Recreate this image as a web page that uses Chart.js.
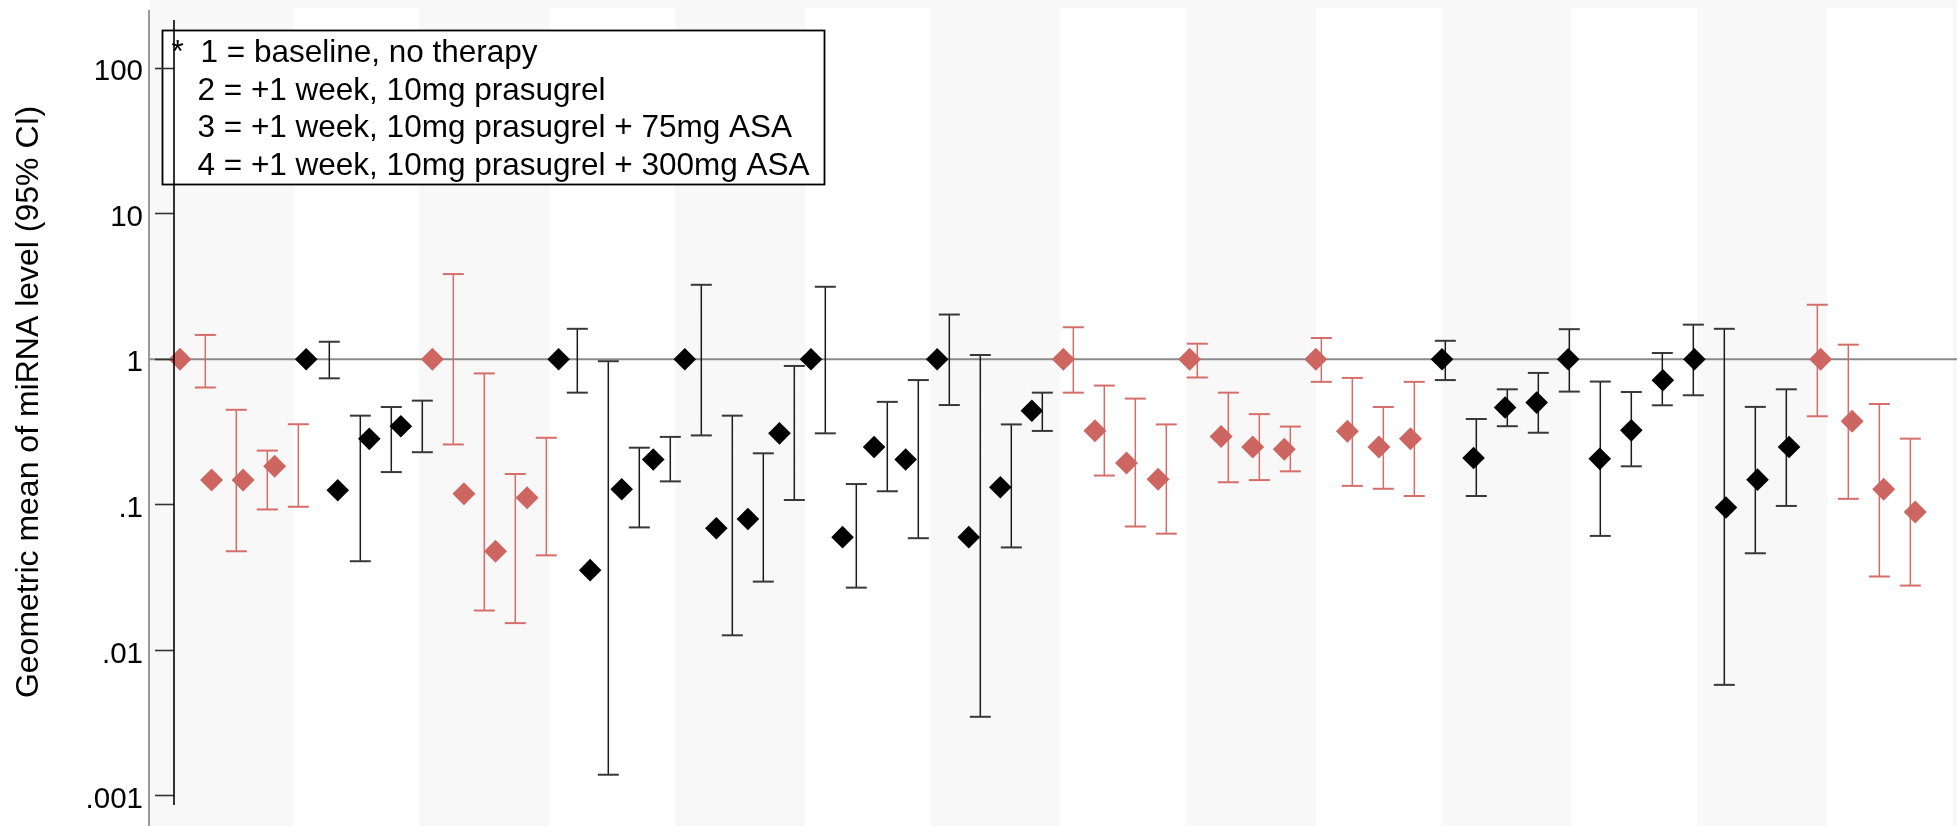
<!DOCTYPE html>
<html>
<head>
<meta charset="utf-8">
<title>Geometric mean of miRNA level</title>
<script src="https://cdn.jsdelivr.net/npm/chart.js@4/dist/chart.umd.min.js"></script>
<style>
  html, body { margin: 0; padding: 0; background: #ffffff; overflow: hidden; }
  canvas { display: block; }
</style>
</head>
<body>
<canvas id="chart" width="1957" height="826"></canvas>
<script>
// ---- Data: 14 miRNAs x 4 conditions (baseline, prasugrel, +75mg ASA, +300mg ASA) ----
const geoMean = [
  1.00, 0.148, 0.148, 0.184,
  1.00, 0.126, 0.284, 0.347,
  1.00, 0.119, 0.048, 0.112,
  1.00, 0.0356, 0.128, 0.205,
  1.00, 0.069, 0.080, 0.31,
  1.00, 0.060, 0.25, 0.205,
  1.00, 0.060, 0.132, 0.443,
  1.00, 0.323, 0.194, 0.150,
  1.00, 0.295, 0.250, 0.241,
  1.00, 0.32, 0.25, 0.285,
  1.00, 0.21, 0.466, 0.504,
  1.00, 0.207, 0.325, 0.718,
  1.00, 0.0958, 0.149, 0.25,
  1.00, 0.375, 0.128, 0.0894
];
const ciLower = [
  0.64, 0.048, 0.093, 0.097,
  0.74, 0.041, 0.168, 0.23,
  0.26, 0.0188, 0.0154, 0.045,
  0.59, 0.0014, 0.07, 0.145,
  0.30, 0.0127, 0.0297, 0.108,
  0.31, 0.027, 0.124, 0.059,
  0.485, 0.0035, 0.051, 0.322,
  0.59, 0.159, 0.071, 0.0634,
  0.75, 0.143, 0.148, 0.170,
  0.70, 0.135, 0.129, 0.115,
  0.72, 0.115, 0.347, 0.313,
  0.60, 0.0612, 0.184, 0.483,
  0.566, 0.0058, 0.0465, 0.0983,
  0.406, 0.110, 0.0322, 0.0279
];
const ciUpper = [
  1.47, 0.45, 0.236, 0.358,
  1.32, 0.41, 0.47, 0.52,
  3.85, 0.80, 0.163, 0.289,
  1.62, 0.97, 0.247, 0.293,
  3.25, 0.41, 0.226, 0.90,
  3.15, 0.139, 0.51, 0.72,
  2.03, 1.07, 0.357, 0.59,
  1.66, 0.66, 0.537, 0.357,
  1.28, 0.59, 0.42, 0.345,
  1.40, 0.745, 0.47, 0.70,
  1.34, 0.389, 0.622, 0.806,
  1.61, 0.703, 0.596, 1.105,
  1.73, 1.62, 0.471, 0.622,
  2.37, 1.26, 0.493, 0.285
];
// miRNAs drawn in the highlighted series (1) vs the plain series (0)
const highlighted = [1, 0, 1, 0, 0, 0, 0, 1, 1, 1, 0, 0, 0, 1];
const conditionsPerMirna = 4;

// Axis ticks and texts
const yTickValues = [0.001, 0.01, 0.1, 1, 10, 100];
const yTickLabels = ['.001', '.01', '.1', '1', '10', '100'];
const yTitle = 'Geometric mean of miRNA level (95% CI)';
const noteMarker = '*';
const noteLines = [
  '1 = baseline, no therapy',
  '2 = +1 week, 10mg prasugrel',
  '3 = +1 week, 10mg prasugrel + 75mg ASA',
  '4 = +1 week, 10mg prasugrel + 300mg ASA'
];
const referenceValue = 1;

// ---- Styling / layout ----
const FONT = '"Liberation Sans", Arial, Helvetica, sans-serif';
const RED = '#cd6660';
const RED_CI = '#d56e69';
const BLACK = '#000000';
const BLACK_CI = '#1c1c1c';
const REGION_BG = '#f8f8f8';
const Y_MIN = 0.000622, Y_MAX = 294;
const BAND_TOP = 260, BAND_FLOOR = 1e-4;
const AXIS_LINE_RANGE = [0.000867, 214];
const BAND_FRACTION = 0.982;

const nPts = geoMean.length;
const idx = Array.from({ length: nPts }, (_, i) => i);
const isHi = i => highlighted[Math.floor(i / conditionsPerMirna)] === 1;

function markerData(flag) {
  return idx.filter(i => isHi(i) === flag).map(i => ({ x: i, y: geoMean[i] }));
}
function ciStemData(flag) {
  const out = [];
  idx.filter(i => isHi(i) === flag).forEach(i => {
    out.push({ x: i, y: ciLower[i] }, { x: i, y: ciUpper[i] }, { x: i, y: null });
  });
  return out;
}
function ciCapData(flag) {
  const out = [];
  idx.filter(i => isHi(i) === flag).forEach(i => {
    out.push({ x: i, y: ciLower[i] }, { x: i, y: ciUpper[i] });
  });
  return out;
}
// alternate miRNA columns get a white band
const bandData = highlighted.map((_, g) => g).filter(g => g % 2 === 1)
  .map(g => ({ x: g, y: [BAND_FLOOR, BAND_TOP] }));

// Background of the plot region plus its left rule; reference line at 1
const regionPlugin = {
  id: 'region',
  beforeDraw(chart) {
    const { ctx, chartArea } = chart;
    const left = chartArea.left - 25;
    ctx.save();
    ctx.fillStyle = REGION_BG;
    ctx.fillRect(left + 1, 0, chart.width - left, chart.height);
    ctx.strokeStyle = '#8e8e8e';
    ctx.lineWidth = 1.8;
    ctx.beginPath();
    ctx.moveTo(left, 10);
    ctx.lineTo(left, chart.height);
    ctx.stroke();
    ctx.restore();
  },
  afterDatasetDraw(chart, args) {
    if (args.meta.type !== 'bar') return;
    const { ctx, chartArea } = chart;
    const y = chart.scales.y.getPixelForValue(referenceValue);
    ctx.save();
    ctx.strokeStyle = '#8a8a8a';
    ctx.lineWidth = 2;
    ctx.beginPath();
    ctx.moveTo(chartArea.left - 24, y);
    ctx.lineTo(chartArea.right, y);
    ctx.stroke();
    ctx.restore();
  }
};

// Boxed note in the upper left corner
const notePlugin = {
  id: 'note',
  afterDatasetsDraw(chart) {
    const { ctx, chartArea } = chart;
    const bx = chartArea.left - 11.5, by = 30.5, bw = 662, bh = 154;
    ctx.save();
    ctx.fillStyle = '#ffffff';
    ctx.fillRect(bx, by, bw, bh);
    ctx.strokeStyle = '#000000';
    ctx.lineWidth = 1.8;
    ctx.strokeRect(bx, by, bw, bh);
    ctx.fillStyle = '#000000';
    ctx.font = '31.5px ' + FONT;
    ctx.textAlign = 'left';
    ctx.textBaseline = 'alphabetic';
    ctx.fillText(noteMarker, bx + 9, 62);
    noteLines.forEach((line, k) => {
      ctx.fillText(line, bx + 35 + (k === 0 ? 3 : 0), 62 + 37.7 * k);
    });
    ctx.restore();
  }
};

// Y axis line and rotated title
const axisPlugin = {
  id: 'axisDecor',
  afterDraw(chart) {
    const { ctx, chartArea } = chart;
    const ys = chart.scales.y;
    ctx.save();
    ctx.strokeStyle = '#000000';
    ctx.lineWidth = 1.6;
    ctx.beginPath();
    ctx.moveTo(chartArea.left, ys.getPixelForValue(AXIS_LINE_RANGE[1]));
    ctx.lineTo(chartArea.left, ys.getPixelForValue(AXIS_LINE_RANGE[0]));
    ctx.stroke();

    ctx.translate(29.5, (chartArea.top + chartArea.bottom) / 2 - 11);
    ctx.rotate(-Math.PI / 2);
    ctx.fillStyle = '#000000';
    ctx.font = '32px ' + FONT;
    ctx.textAlign = 'center';
    ctx.textBaseline = 'middle';
    ctx.fillText(yTitle, 0, 0);
    ctx.restore();
  }
};

new Chart(document.getElementById('chart'), {
  type: 'scatter',
  data: {
    datasets: [
      { type: 'scatter', xAxisID: 'xd', yAxisID: 'y', order: 0, clip: false,
        data: markerData(true), pointStyle: 'rectRot', pointRadius: 11.5,
        backgroundColor: RED, borderColor: RED, borderWidth: 0 },
      { type: 'scatter', xAxisID: 'xd', yAxisID: 'y', order: 0, clip: false,
        data: markerData(false), pointStyle: 'rectRot', pointRadius: 11.3,
        backgroundColor: BLACK, borderColor: BLACK, borderWidth: 0 },
      { type: 'scatter', xAxisID: 'xc', yAxisID: 'y', order: 1, clip: false,
        data: ciCapData(true), pointStyle: 'line', pointRadius: 10.5,
        borderColor: RED_CI, borderWidth: 2 },
      { type: 'scatter', xAxisID: 'xc', yAxisID: 'y', order: 1, clip: false,
        data: ciCapData(false), pointStyle: 'line', pointRadius: 10.5,
        borderColor: '#383838', borderWidth: 2 },
      { type: 'line', xAxisID: 'xc', yAxisID: 'y', order: 2, clip: false,
        data: ciStemData(true), borderColor: RED_CI, borderWidth: 1.5,
        pointRadius: 0, spanGaps: false, fill: false, tension: 0 },
      { type: 'line', xAxisID: 'xc', yAxisID: 'y', order: 2, clip: false,
        data: ciStemData(false), borderColor: BLACK_CI, borderWidth: 1.5,
        pointRadius: 0, spanGaps: false, fill: false, tension: 0 },
      { type: 'bar', xAxisID: 'xb', yAxisID: 'y', order: 5,
        data: bandData, backgroundColor: '#ffffff', borderWidth: 0,
        categoryPercentage: 1, barPercentage: BAND_FRACTION / 2, grouped: false }
    ]
  },
  options: {
    responsive: false,
    animation: false,
    devicePixelRatio: 1,
    events: [],
    layout: { padding: 0, autoPadding: false },
    plugins: { legend: { display: false }, tooltip: { enabled: false }, title: { display: false } },
    scales: {
      xd: { type: 'linear', display: false, offset: false, bounds: 'data', min: -0.190, max: 56.323 },
      xc: { type: 'linear', display: false, offset: false, bounds: 'data', min: -1.0097, max: 56.506 },
      // band axis: no ticks, so bar width follows the band spacing only
      xb: { type: 'linear', display: false, offset: false, bounds: 'data', min: -0.428, max: 13.524,
            afterBuildTicks: s => { s.ticks = []; } },
      y: {
        type: 'logarithmic',
        position: 'left',
        bounds: 'data',
        min: Y_MIN,
        max: Y_MAX,
        afterBuildTicks: s => { s.ticks = yTickValues.map(v => ({ value: v })); },
        afterFit: s => { s.width = 174; s.paddingTop = 0; s.paddingBottom = 0; },
        ticks: {
          autoSkip: false,
          maxRotation: 0,
          minRotation: 0,
          padding: 12,
          labelOffset: 4,
          color: '#000000',
          font: { family: FONT, size: 29.5 },
          callback: v => yTickLabels[yTickValues.indexOf(v)]
        },
        grid: { drawOnChartArea: false, drawTicks: true, tickLength: 19,
                tickColor: '#333333', tickWidth: 1.6, z: 1 },
        border: { display: false }
      }
    }
  },
  plugins: [regionPlugin, notePlugin, axisPlugin]
});
</script>
</body>
</html>
